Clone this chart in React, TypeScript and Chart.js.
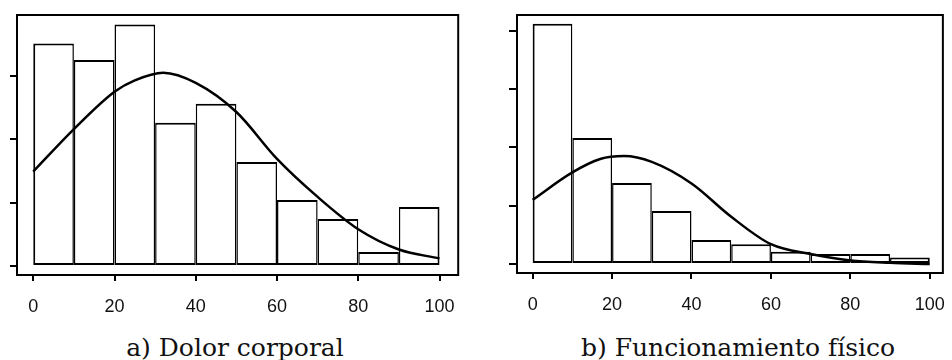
import React, { useEffect, useRef } from "react";
import { Chart, registerables } from "chart.js";

Chart.register(...registerables);

// ---- data ----
const binCenters = [5, 15, 25, 35, 45, 55, 65, 75, 85, 95];
const xTickValues = [0, 20, 40, 60, 80, 100];

const dolorCounts = [35.1, 32.5, 38.1, 22.6, 25.6, 16.4, 10.4, 7.4, 2.2, 9.3];
const dolorCurveX = [0, 10, 20, 25, 32, 40, 50, 60, 70, 80, 90, 100];
const dolorCurveY = [14.9, 21.6, 27.5, 29.3, 30.5, 28.9, 24.3, 16.9, 10.9, 5.8, 2.6, 1.2];
const dolorYTicks = [0, 10, 20, 30];

const fisicoCounts = [82.4, 43.2, 27.8, 18.2, 8.2, 6.8, 4.2, 3.4, 3.4, 2.2];
const fisicoCurveX = [0, 10, 17, 23, 30, 40, 50, 60, 70, 80, 90, 100];
const fisicoCurveY = [22.0, 31.4, 36.0, 37.0, 35.0, 27.6, 16.2, 6.8, 3.4, 1.2, 0.4, 0];
const fisicoYTicks = [0, 20, 40, 60, 80];

const captionA = "a) Dolor corporal";
const captionB = "b) Funcionamiento físico";

type PanelCfg = {
  counts: number[];
  curveX: number[];
  curveY: number[];
  yTicks: number[];
  xMin: number;
  xMax: number;
  yMin: number;
  yMax: number;
  yAxisWidth: number;
  xAxisHeight: number;
  padRight: number;
  yTickLen: number;
};

const framePlugin = {
  id: "frame",
  afterDraw(chart: any) {
    const { ctx, chartArea } = chart;
    ctx.save();
    ctx.strokeStyle = "#000";
    ctx.lineWidth = 2;
    ctx.strokeRect(chartArea.left, chartArea.top, chartArea.right - chartArea.left, chartArea.bottom - chartArea.top);
    ctx.restore();
  },
};

function Panel({ cfg, left, width, height }: { cfg: PanelCfg; left: number; width: number; height: number }) {
  const ref = useRef<HTMLCanvasElement | null>(null);
  useEffect(() => {
    if (!ref.current) return;
    const n = cfg.counts.length;
    const chart = new Chart(ref.current, {
      data: {
        datasets: [
          {
            type: "line",
            data: cfg.curveX.map((x, i) => ({ x, y: cfg.curveY[i] })),
            borderColor: "#000",
            borderWidth: 2.5,
            pointRadius: 0,
            cubicInterpolationMode: "monotone",
            fill: false,
            order: 0,
          } as any,
          {
            type: "bar",
            data: binCenters.map((x, i) => ({ x, y: cfg.counts[i] })),
            backgroundColor: "#fff",
            borderColor: "#000",
            borderWidth: (c: any) => ({
              top: 2,
              bottom: 2,
              left: c.dataIndex === 0 ? 2 : 1.5,
              right: c.dataIndex === n - 1 ? 2 : 1.5,
            }),
            borderSkipped: false,
            barPercentage: 1,
            categoryPercentage: 1,
            inflateAmount: 0,
            order: 1,
          } as any,
        ],
      },
      options: {
        responsive: false,
        animation: false,
        devicePixelRatio: 1,
        layout: { padding: { left: 0, top: 15, right: cfg.padRight, bottom: 0 } },
        plugins: { legend: { display: false }, tooltip: { enabled: false } },
        scales: {
          x: {
            type: "linear",
            offset: false,
            min: cfg.xMin,
            max: cfg.xMax,
            afterBuildTicks: (axis: any) => {
              axis.ticks = xTickValues.map((v) => ({ value: v }));
            },
            afterFit: (s: any) => {
              s.height = cfg.xAxisHeight;
            },
            ticks: {
              autoSkip: false,
              maxRotation: 0,
              padding: 15,
              color: "#111",
              font: { family: "'Liberation Sans', Arial, sans-serif", size: 18 },
              callback: (v: any) => String(v),
            },
            grid: { offset: false, drawOnChartArea: false, drawTicks: true, tickLength: 6, color: "#000", lineWidth: 2 },
            border: { display: false },
          },
          y: {
            type: "linear",
            min: cfg.yMin,
            max: cfg.yMax,
            afterBuildTicks: (axis: any) => {
              axis.ticks = cfg.yTicks.map((v) => ({ value: v }));
            },
            afterFit: (s: any) => {
              s.width = cfg.yAxisWidth;
            },
            ticks: { display: false },
            grid: { drawOnChartArea: false, drawTicks: true, tickLength: cfg.yTickLen, color: "#000", lineWidth: 2 },
            border: { display: false },
          },
        },
      },
      plugins: [framePlugin],
    } as any);
    return () => chart.destroy();
  }, [cfg]);
  return (
    <canvas
      ref={ref}
      width={width}
      height={height}
      style={{ position: "absolute", left, top: 0, width, height }}
    />
  );
}

const leftCfg: PanelCfg = {
  counts: dolorCounts,
  curveX: dolorCurveX,
  curveY: dolorCurveY,
  yTicks: dolorYTicks,
  xMin: -4.0,
  xMax: 104.6,
  yMin: -1.42,
  yMax: 39.6,
  yAxisWidth: 17,
  xAxisHeight: 45,
  padRight: 11,
  yTickLen: 7,
};

const rightCfg: PanelCfg = {
  counts: fisicoCounts,
  curveX: fisicoCurveX,
  curveY: fisicoCurveY,
  yTicks: fisicoYTicks,
  xMin: -3.94,
  xMax: 103.3,
  yMin: -3.09,
  yMax: 85.4,
  yAxisWidth: 27,
  xAxisHeight: 47,
  padRight: 7,
  yTickLen: 8,
};

const captionStyle: React.CSSProperties = {
  position: "absolute",
  top: 335,
  width: 400,
  textAlign: "center",
  fontFamily: "'DejaVu Serif', serif",
  fontSize: 25,
  lineHeight: "25px",
  color: "#111",
  whiteSpace: "nowrap",
};

export default function App() {
  return (
    <div
      style={{
        position: "absolute",
        left: 0,
        top: 0,
        width: 952,
        height: 360,
        overflow: "hidden",
        background: "#fff",
      }}
    >
      <Panel cfg={leftCfg} left={0} width={470} height={320} />
      <Panel cfg={rightCfg} left={490} width={470} height={320} />
      <div style={{ ...captionStyle, left: 35 }}>{captionA}</div>
      <div style={{ ...captionStyle, left: 538 }}>{captionB}</div>
    </div>
  );
}
